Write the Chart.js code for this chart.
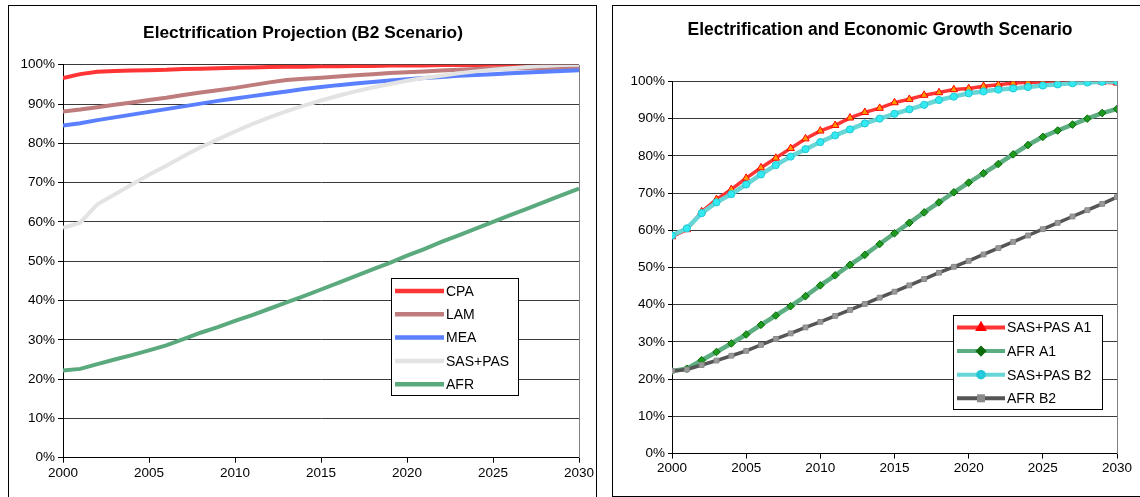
<!DOCTYPE html>
<html>
<head>
<meta charset="utf-8">
<script src="https://cdn.jsdelivr.net/npm/chart.js@4"></script>
<style>
  html, body { margin: 0; padding: 0; background: #fff; width: 1140px; height: 497px; overflow: hidden; }
  #stage { position: relative; width: 1140px; height: 497px; overflow: hidden; }
  .panel { position: absolute; border: 1px solid #000; box-sizing: border-box; }
  #p1 { left: 8px; top: 5px; width: 589px; height: 600px; }
  #p2 { left: 612px; top: 5px; width: 600px; height: 492px; }
  canvas { position: absolute; top: 0; }
  #c1 { left: 0; }
  #c2 { left: 600px; }
</style>
</head>
<body>
<div id="stage">
  <div class="panel" id="p1"></div>
  <div class="panel" id="p2"></div>
  <canvas id="c1" width="600" height="497"></canvas>
  <canvas id="c2" width="540" height="497"></canvas>
</div>
<script>
// ---- Data ----
const years = [2000, 2001, 2002, 2003, 2004, 2005, 2006, 2007, 2008, 2009, 2010,
               2011, 2012, 2013, 2014, 2015, 2016, 2017, 2018, 2019, 2020,
               2021, 2022, 2023, 2024, 2025, 2026, 2027, 2028, 2029, 2030];

// Left chart: Electrification Projection (B2 Scenario), % electrified
const titleLeft = 'Electrification Projection (B2 Scenario)';
const seriesLeftNames = ['CPA', 'LAM', 'MEA', 'SAS+PAS', 'AFR'];
const cpa = [96.6, 97.6, 98.2, 98.4, 98.5, 98.6, 98.7, 98.9, 99.0, 99.1, 99.2,
             99.3, 99.4, 99.5, 99.5, 99.6, 99.6, 99.7, 99.7, 99.8, 99.8,
             99.8, 99.9, 99.9, 99.9, 100, 100, 100, 100, 100, 100];
const lam = [88.1, 88.6, 89.2, 89.8, 90.4, 91.0, 91.6, 92.3, 92.9, 93.5, 94.1,
             94.8, 95.5, 96.1, 96.4, 96.7, 97.0, 97.3, 97.6, 97.9, 98.1,
             98.3, 98.5, 98.7, 98.9, 99.0, 99.1, 99.1, 99.1, 99.1, 99.1];
const mea = [84.5, 85.1, 85.9, 86.6, 87.3, 88.0, 88.7, 89.4, 90.1, 90.8, 91.4,
             92.0, 92.6, 93.2, 93.8, 94.3, 94.8, 95.2, 95.6, 96.0, 96.3,
             96.6, 96.9, 97.2, 97.4, 97.6, 97.8, 98.0, 98.2, 98.4, 98.6];
const sasPas = [58.5, 59.8, 64.5, 67.0, 69.5, 72.0, 74.3, 76.7, 79.0, 81.0, 83.0,
                84.9, 86.6, 88.2, 89.6, 90.9, 92.1, 93.2, 94.2, 95.1, 95.9,
                96.6, 97.2, 97.8, 98.3, 98.7, 99.1, 99.4, 99.7, 99.9, 100];
const afr = [22.2, 22.6, 23.8, 25.0, 26.1, 27.3, 28.6, 30.2, 31.8, 33.2, 34.8,
             36.3, 37.9, 39.5, 41.1, 42.8, 44.5, 46.2, 47.9, 49.6, 51.4,
             53.1, 54.9, 56.6, 58.3, 60.0, 61.7, 63.4, 65.1, 66.8, 68.5];

// Right chart: Electrification and Economic Growth Scenario
const titleRight = 'Electrification and Economic Growth Scenario';
const seriesRightNames = ['SAS+PAS A1', 'AFR A1', 'SAS+PAS B2', 'AFR B2'];
const sasPasA1 = [58.3, 60.2, 65.0, 68.3, 71.0, 74.0, 76.8, 79.4, 82.0, 84.6, 86.7,
                  88.2, 90.2, 91.7, 92.8, 94.3, 95.2, 96.3, 97.0, 97.8, 98.1,
                  98.7, 99.1, 99.6, 99.8, 99.8, 99.8, 99.8, 99.8, 99.8, 99.6];
const afrA1 = [22.2, 22.8, 25.1, 27.3, 29.6, 32.0, 34.6, 37.1, 39.6, 42.3, 45.2,
               47.9, 50.7, 53.4, 56.3, 59.2, 62.0, 64.8, 67.5, 70.2, 72.8,
               75.3, 77.8, 80.4, 82.9, 85.1, 86.8, 88.4, 90.0, 91.5, 92.6];
const sasPasB2 = [58.6, 60.5, 64.6, 67.5, 69.7, 72.3, 75.0, 77.5, 79.8, 81.8, 83.7,
                  85.5, 87.1, 88.7, 90.0, 91.3, 92.5, 93.7, 95.0, 95.9, 96.8,
                  97.3, 97.8, 98.1, 98.5, 98.9, 99.2, 99.5, 99.7, 99.9, 100];
const afrB2 = [22.2, 22.6, 23.8, 25.0, 26.3, 27.6, 29.2, 30.8, 32.3, 33.9, 35.4,
               37.0, 38.6, 40.2, 41.9, 43.5, 45.2, 46.9, 48.6, 50.2, 51.8,
               53.5, 55.2, 56.9, 58.6, 60.3, 62.0, 63.7, 65.4, 67.1, 68.9];

const xTicks = [2000, 2005, 2010, 2015, 2020, 2025, 2030];
const yTicks = [0, 10, 20, 30, 40, 50, 60, 70, 80, 90, 100];

// ---- Helpers ----
const FONT = "'Liberation Sans', Arial, sans-serif";
const toXY = arr => arr.map((v, i) => ({ x: years[i], y: v }));

const decorPlugin = {
  id: 'decor',
  afterDraw(chart, args, opts) {
    const ctx = chart.ctx;
    const ca = chart.chartArea;
    ctx.save();
    // right edge of plot area
    ctx.strokeStyle = '#808080';
    ctx.lineWidth = 1;
    const rx = Math.round(ca.right) + 0.5;
    ctx.beginPath();
    ctx.moveTo(rx, Math.round(ca.top));
    ctx.lineTo(rx, Math.round(ca.bottom));
    ctx.stroke();
    // title
    ctx.fillStyle = '#000';
    ctx.font = 'bold ' + opts.titleSize + 'px ' + FONT;
    ctx.textAlign = 'center';
    ctx.textBaseline = 'middle';
    ctx.fillText(opts.title, opts.titleX, opts.titleY);
    // legend box
    const L = opts.legend;
    ctx.fillStyle = '#fff';
    ctx.fillRect(L.x, L.y, L.w, L.h);
    ctx.strokeStyle = '#000';
    ctx.lineWidth = 1;
    ctx.strokeRect(Math.round(L.x) + 0.5, Math.round(L.y) + 0.5, L.w, L.h);
    ctx.font = L.fontSize + 'px ' + FONT;
    ctx.textAlign = 'left';
    chart.data.datasets.forEach((ds, i) => {
      const cy = L.firstY + i * L.rowH;
      ctx.strokeStyle = ds.borderColor;
      ctx.lineWidth = L.lineW;
      ctx.beginPath();
      ctx.moveTo(L.lineX1, cy);
      ctx.lineTo(L.lineX2, cy);
      ctx.stroke();
      if (ds.pointRadius && ds.pointRadius > 0) {
        ctx.fillStyle = ds.pointBackgroundColor;
        ctx.strokeStyle = ds.pointBorderColor;
        Chart.helpers.drawPoint(ctx, {
          pointStyle: ds.pointStyle, radius: L.markerR, rotation: 0,
          borderWidth: ds.pointBorderWidth
        }, (L.lineX1 + L.lineX2) / 2, cy);
      }
      ctx.fillStyle = '#000';
      ctx.fillText(ds.label, L.textX, cy + 1);
    });
    ctx.restore();
  }
};

function scalesFor(yWidth, xHeight, yTickLen, yPad) {
  return {
    x: {
      type: 'linear', min: 2000, max: 2030,
      afterBuildTicks: s => { s.ticks = xTicks.map(v => ({ value: v })); },
      ticks: { callback: v => String(v), color: '#000', font: { family: FONT, size: 13.5 }, padding: 2, maxRotation: 0, autoSkip: false },
      grid: { drawOnChartArea: false, tickLength: 5, color: '#000' },
      border: { color: '#000', width: 1 },
      afterFit: s => { s.height = xHeight; }
    },
    y: {
      min: 0, max: 100,
      afterBuildTicks: s => { s.ticks = yTicks.map(v => ({ value: v })); },
      ticks: { callback: v => v + '%', color: '#000', font: { family: FONT, size: 13.5 }, padding: yPad },
      grid: { color: '#3a3a3a', lineWidth: 1, tickLength: yTickLen, tickColor: '#000' },
      border: { color: '#000', width: 1 },
      afterFit: s => { s.width = yWidth; }
    }
  };
}

// ---- Left chart ----
const leftColors = ['#FF3535', '#BF7C7C', '#5A80FF', '#E3E3E3', '#5BAA7E'];
const leftValues = [cpa, lam, mea, sasPas, afr];
new Chart(document.getElementById('c1'), {
  type: 'line',
  data: {
    datasets: seriesLeftNames.map((n, i) => ({
      label: n, data: toXY(leftValues[i]), borderColor: leftColors[i],
      borderWidth: 4, pointRadius: 0, tension: 0, fill: false,
      order: leftValues.length - i
    }))
  },
  options: {
    responsive: false, animation: false, devicePixelRatio: 1,
    layout: { padding: { left: 0, top: 64.7, right: 21, bottom: 9.3 } },
    plugins: {
      legend: { display: false }, tooltip: { enabled: false },
      decor: {
        title: titleLeft, titleSize: 17.3, titleX: 303, titleY: 33,
        legend: { x: 391, y: 278, w: 127, h: 117, firstY: 291, rowH: 23.3,
                  lineX1: 395, lineX2: 444, textX: 446, lineW: 4.5, fontSize: 14, markerR: 0 }
      }
    },
    scales: scalesFor(63, 30, 5, 3)
  },
  plugins: [decorPlugin]
});

// ---- Right chart ----
const rightStyles = [
  { line: '#FF3535', w: 3.5, ps: 'triangle', r: 4.3, bg: '#FF9900', bc: '#FF0000', bw: 1 },
  { line: '#5CAE80', w: 4.5, ps: 'rectRot', r: 3.8, bg: '#1E9A1E', bc: '#0B6B0B', bw: 1 },
  { line: '#66D6D6', w: 4.5, ps: 'circle', r: 3.6, bg: '#33EAF0', bc: '#22C8D8', bw: 1 },
  { line: '#555555', w: 3.5, ps: 'rect', r: 3.4, bg: '#9A9A9A', bc: '#8A8A8A', bw: 1 }
];
const rightValues = [sasPasA1, afrA1, sasPasB2, afrB2];
new Chart(document.getElementById('c2'), {
  type: 'line',
  data: {
    datasets: seriesRightNames.map((n, i) => ({
      label: n, data: toXY(rightValues[i]), borderColor: rightStyles[i].line,
      borderWidth: rightStyles[i].w, tension: 0, fill: false,
      pointStyle: rightStyles[i].ps, pointRadius: rightStyles[i].r,
      pointBackgroundColor: rightStyles[i].bg, pointBorderColor: rightStyles[i].bc,
      pointBorderWidth: rightStyles[i].bw, order: rightValues.length - i
    }))
  },
  options: {
    responsive: false, animation: false, devicePixelRatio: 1,
    layout: { padding: { left: 0, top: 81.4, right: 23, bottom: 13.4 } },
    plugins: {
      legend: { display: false }, tooltip: { enabled: false },
      decor: {
        title: titleRight, titleSize: 17.5, titleX: 280, titleY: 30,
        legend: { x: 353, y: 315, w: 149, h: 94, firstY: 327.5, rowH: 23.6,
                  lineX1: 357, lineX2: 405, textX: 407, lineW: 4, fontSize: 14, markerR: 2.8 }
      }
    },
    scales: scalesFor(72, 30, 4, 3)
  },
  plugins: [decorPlugin]
});
</script>
</body>
</html>
